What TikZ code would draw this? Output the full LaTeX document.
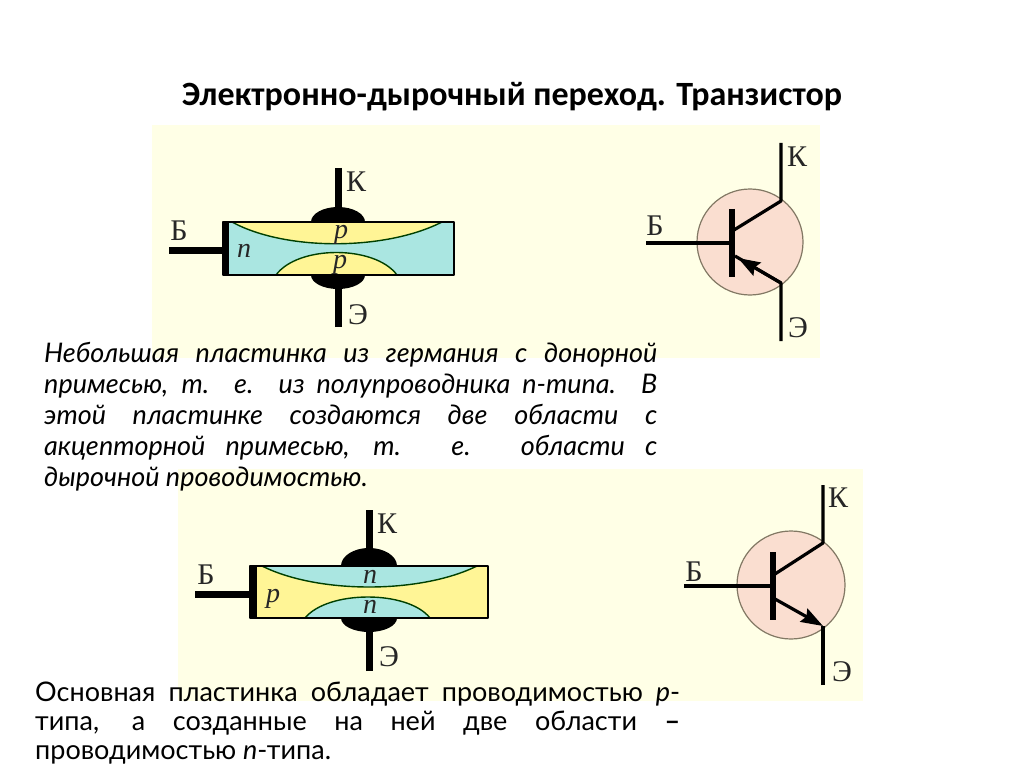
\documentclass[tikz,border=0pt]{standalone}
\usepackage{fontspec}
\setmainfont{Lato}
\newfontfamily\titlefont{Carlito}
\newfontfamily\labelfont{Liberation Serif}
\usetikzlibrary{arrows.meta}
\definecolor{panelyellow}{RGB}{255,255,230}
\definecolor{plateblue}{RGB}{170,230,225}
\definecolor{plateyellow}{RGB}{255,245,150}
\definecolor{circlepink}{RGB}{250,222,208}
\definecolor{circleline}{RGB}{130,120,100}
\tikzset{
	panel/.style={fill=panelyellow,draw=none},
	plate/.style={draw=black,line width=1.6pt},
	lens/.style={draw=black!75!green,line width=1.4pt},
	lead/.style={line width=7pt,color=black},
	thinlead/.style={line width=3.2pt,color=black},
	bar/.style={line width=6pt,color=black},
	emitter/.style={thinlead,-{Stealth[inset=3pt,length=22pt,width=15pt]}},
	tcircle/.style={fill=circlepink,draw=circleline,line width=1.2pt},
	termlabel/.style={font=\labelfont\fontsize{30}{30}\selectfont,text=black!85,inner sep=0pt},
	typelabel/.style={font=\labelfont\itshape\fontsize{28}{28}\selectfont,text=black!85,inner sep=0pt},
	bodytext/.style={font=\fontsize{27}{31}\selectfont,align=justify,inner sep=0pt,anchor=north west}
}
\begin{document}
\begin{tikzpicture}[line cap=butt,line join=round,x=1pt,y=-1pt]
	\useasboundingbox (0,0) rectangle (1024,767);
	\fill[white] (0,0) rectangle (1024,767);
	\fill[panel] (152,125) rectangle (820,358);
	\fill[panel] (178,469) rectangle (863,701);
	\node (title) at (512,97) {\titlefont\bfseries\fontsize{34}{36}\selectfont Электронно-дырочный переход. Транзистор};

	% upper plate, n type
	\fill (338,222) ellipse (27 and 15);
	\fill (338,275) ellipse (27 and 14);
	\coordinate (k1) at (338,168);
	\coordinate (k1e) at (338,215);
	\coordinate (e1) at (338,327);
	\coordinate (e1e) at (338,282);
	\coordinate (b1) at (169,250);
	\coordinate (b1e) at (224,250);
	\draw[lead] (k1) -- (k1e);
	\draw[lead] (e1) -- (e1e);
	\draw[lead] (b1) -- (b1e);
	\fill[plateblue] (223,222) rectangle (454,275);
	\filldraw[fill=plateyellow,lens] (232,222) .. controls (285,251) and (385,251) .. (442,222);
	\filldraw[fill=plateyellow,lens] (276,275) .. controls (298,245) and (375,245) .. (397,275);
	\draw[plate] (223,222) rectangle (454,275);
	\fill (223,222) rectangle (229,275);
	\node[typelabel] (n1) at (244,251) {n};
	\node[typelabel] (p1) at (341,235) {p};
	\node[typelabel] (p2) at (340,265) {p};
	\node[termlabel] (kl1) at (356,182) {К};
	\node[termlabel] (bl1) at (179,231) {Б};
	\node[termlabel] (el1) at (358,315) {Э};

	% upper symbol
	\draw[tcircle] (750,242) circle (53);
	\coordinate (bt1) at (646,243);
	\coordinate (bb1) at (732,243);
	\coordinate (ct1) at (781,143);
	\coordinate (cm1) at (781,201);
	\coordinate (cb1) at (734,230);
	\coordinate (et1) at (781,341);
	\coordinate (em1) at (781,283);
	\coordinate (eb1) at (735,256);
	\draw[bar] (732,209) -- (732,277);
	\draw[thinlead] (bt1) -- (bb1);
	\draw[thinlead] (ct1) -- (cm1) -- (cb1);
	\draw[thinlead] (et1) -- (em1) -- (eb1);
	\draw[emitter] (em1) -- (738,258);
	\node[termlabel] (kl2) at (797,157) {К};
	\node[termlabel] (bl2) at (655,226) {Б};
	\node[termlabel] (el2) at (798,328) {Э};

	% first text
	\node[bodytext,text width=613pt] (text1) at (44,342) {\itshape Небольшая пластинка из германия с донорной\linebreak
	примесью, т. е. из полупроводника n-типа. В\linebreak
	этой пластинке создаются две области с\linebreak
	акцепторной примесью, т. е. области с\linebreak
	дырочной проводимостью.};

	% lower plate, p type
	\fill (369,566) ellipse (28 and 18);
	\fill (369,618) ellipse (28 and 14);
	\coordinate (k2) at (369,510);
	\coordinate (k2e) at (369,558);
	\coordinate (e2) at (369,671);
	\coordinate (e2e) at (369,626);
	\coordinate (b2) at (195,594);
	\coordinate (b2e) at (251,594);
	\draw[lead] (k2) -- (k2e);
	\draw[lead] (e2) -- (e2e);
	\draw[lead] (b2) -- (b2e);
	\fill[plateyellow] (250,566) rectangle (488,618);
	\filldraw[fill=plateblue,lens] (262,566) .. controls (318,594) and (420,594) .. (477,566);
	\filldraw[fill=plateblue,lens] (305,618) .. controls (328,590) and (408,590) .. (430,618);
	\draw[plate] (250,566) rectangle (488,618);
	\fill (250,566) rectangle (257,618);
	\node[typelabel] (p3) at (273,599) {p};
	\node[typelabel] (n2) at (370,577) {n};
	\node[typelabel] (n3) at (370,607) {n};
	\node[termlabel] (kl3) at (387,524) {К};
	\node[termlabel] (bl3) at (206,575) {Б};
	\node[termlabel] (el3) at (389,657) {Э};

	% lower symbol
	\draw[tcircle] (791,585) circle (54);
	\coordinate (bt2) at (684,586);
	\coordinate (bb2) at (773,586);
	\coordinate (ct2) at (823,485);
	\coordinate (cm2) at (823,543);
	\coordinate (cb2) at (775,574);
	\coordinate (et2) at (823,685);
	\coordinate (em2) at (823,626);
	\coordinate (eb2) at (775,599);
	\draw[bar] (773,552) -- (773,620);
	\draw[thinlead] (bt2) -- (bb2);
	\draw[thinlead] (ct2) -- (cm2) -- (cb2);
	\draw[thinlead] (et2) -- (em2);
	\draw[emitter] (eb2) -- (em2);
	\node[termlabel] (kl4) at (838,498) {К};
	\node[termlabel] (bl4) at (694,572) {Б};
	\node[termlabel] (el4) at (842,672) {Э};

	% second text
	\node[bodytext,text width=645pt,font=\fontsize{27}{29}\selectfont] (text2) at (35,682) {Основная пластинка обладает проводимостью \textit{p}-\linebreak
	типа, а созданные на ней две области \textbf{–}\linebreak
	проводимостью \textit{n}-типа.};
\end{tikzpicture}
\end{document}
